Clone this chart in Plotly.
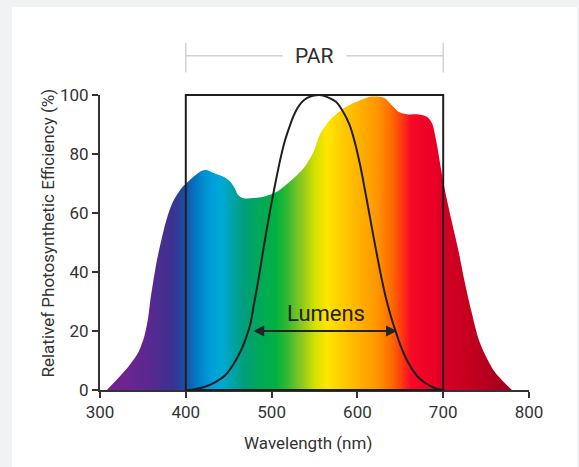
import plotly.graph_objects as go

# ---------------- data ----------------
# Relative photosynthetic efficiency spectrum (coloured area)
spec_wl = [308, 321, 333, 345, 352, 356, 359, 362, 366, 372, 378, 385, 395, 407, 418, 424,
           434, 444, 452, 457, 461, 467, 475, 490, 506, 521, 537, 549, 556, 568, 584, 599,
           615, 626, 632, 640, 648, 659, 671, 681, 687, 692, 698, 704, 710, 718, 725, 733,
           741, 749, 760, 772, 780]
spec_val = [0, 4.0, 7.9, 13.0, 18.6, 24.3, 31.1, 36.7, 43.5, 51.4, 58.2, 63.8, 68.4, 71.8, 74.2, 74.6,
            73.4, 72.3, 70.6, 68.4, 66.1, 65.0, 65.0, 65.5, 67.2, 70.6, 75.1, 80.8, 86.4, 91.5, 95.5, 97.7,
            99.4, 99.4, 98.9, 96.6, 94.3, 93.4, 93.4, 92.6, 90.4, 84.2, 74.0, 65.0, 57.1, 46.9, 36.7, 26.5,
            17.5, 11.9, 6.2, 2.3, 0]

# Luminosity (lumens) curve
lum_wl = [400, 410, 422, 434, 446, 455, 461, 466, 470, 475, 480, 485, 490, 495, 500, 505,
          510, 515, 520, 525, 530, 535, 541, 548, 556, 565, 575, 583, 591, 597, 603, 609,
          615, 621, 627, 633, 639, 645, 651, 657, 664, 671, 680, 690, 700]
lum_val = [0, 0.3, 1.1, 2.6, 5.0, 8.5, 11.5, 14.5, 17.5, 22, 30, 38, 47, 55.5, 63.5, 71,
           78, 84, 88.5, 92.5, 95.5, 97.5, 98.9, 99.7, 100, 99.3, 97.7, 94.5, 89.8, 84, 76.5, 67.5,
           58, 48.5, 39.5, 31.5, 25, 19.5, 14.5, 10.5, 7, 4.3, 2.2, 0.7, 0]

# Spectrum colour stops (wavelength nm -> colour)
grad_wl = [308, 330, 360, 385, 398, 412, 428, 442, 455, 468, 485, 505, 520, 535, 550, 565,
           580, 600, 622, 640, 652, 662, 690, 705, 730, 760, 780]
grad_col = ["#7b1e8e", "#6c2490", "#57298f", "#3a3291", "#1f4ba1", "#0078c4", "#009dd8", "#00a9d6",
            "#00a3a6", "#009f7a", "#00a85a", "#00b140", "#3cba30", "#8cc820", "#d2e000", "#ffe600",
            "#ffcf00", "#ffb400", "#ff9800", "#ff6a00", "#ff3812", "#f70a26", "#ea0026", "#d20024",
            "#c5001f", "#ae001e", "#950020"]

x_ticks = [300, 400, 500, 600, 700, 800]
y_ticks = [0, 20, 40, 60, 80, 100]

par_range = [400, 700]           # PAR band (nm)
par_label_y = 113.3              # level of PAR bracket (in % units above axis)
par_cap = [107.6, 117.7]
lumens_arrow = [477, 646]        # double arrow span (nm)
lumens_arrow_y = 20
lumens_label = (563.5, 25.9)

# ---------------- figure ----------------
fig = go.Figure()

g0, g1 = grad_wl[0], grad_wl[-1]
colorscale = [[(w - g0) / (g1 - g0), c] for w, c in zip(grad_wl, grad_col)]

fig.add_trace(go.Scatter(
    x=spec_wl, y=spec_val, mode="lines",
    line=dict(width=0, shape="spline", smoothing=0.8),
    fill="tozeroy",
    fillgradient=dict(type="horizontal", colorscale=colorscale, start=g0, stop=g1),
    hoverinfo="skip", showlegend=False,
))

fig.add_trace(go.Scatter(
    x=lum_wl, y=lum_val, mode="lines",
    line=dict(color="#1e1e1e", width=2, shape="spline", smoothing=0.8),
    hoverinfo="skip", showlegend=False,
))

# PAR box
fig.add_shape(type="rect", xref="x", yref="paper",
              x0=par_range[0], x1=par_range[1], y0=0, y1=1,
              line=dict(color="#1e1e1e", width=2), layer="above")

# PAR bracket
par_mid = (par_range[0] + par_range[1]) / 2
gap = 37
grey = "#d2d2d2"
for xa, xb in [(par_range[0], par_mid - gap), (par_mid + gap, par_range[1])]:
    fig.add_shape(type="line", xref="x", yref="paper", x0=xa, x1=xb,
                  y0=par_label_y / 100, y1=par_label_y / 100,
                  line=dict(color=grey, width=1.5))
for xc in par_range:
    fig.add_shape(type="line", xref="x", yref="paper", x0=xc, x1=xc,
                  y0=par_cap[0] / 100, y1=par_cap[1] / 100,
                  line=dict(color=grey, width=1.5))
fig.add_annotation(x=par_mid, y=par_label_y / 100, xref="x", yref="paper",
                   text="PAR", showarrow=False, xanchor="center", yanchor="middle",
                   font=dict(size=21, color="#2e2e2e", family="Roboto"))

# Lumens arrow + label
fig.add_annotation(x=lumens_arrow[1], y=lumens_arrow_y, ax=lumens_arrow[0], ay=lumens_arrow_y,
                   xref="x", yref="y", axref="x", ayref="y", text="",
                   showarrow=True, arrowhead=2, arrowside="end+start", arrowsize=1.2,
                   arrowwidth=1.8, arrowcolor="#222222", standoff=0, startstandoff=0)
fig.add_annotation(x=lumens_label[0], y=lumens_label[1], xref="x", yref="y",
                   text="Lumens", showarrow=False, xanchor="center", yanchor="middle",
                   font=dict(size=22, color="#222222", family="Roboto"))

# Axis titles
fig.add_annotation(x=-0.1235, y=0.5305, xref="paper", yref="paper",
                   text="Relativef Photosynthetic Efficiency (%)", textangle=-90,
                   showarrow=False, xanchor="center", yanchor="middle",
                   font=dict(size=17, color="#333333", family="Roboto"))
fig.add_annotation(x=0.4856, y=-0.1797, xref="paper", yref="paper",
                   text="Wavelength (nm)", showarrow=False, xanchor="center", yanchor="middle",
                   font=dict(size=17, color="#333333", family="Roboto"))

# White card on grey page
fig.add_shape(type="rect", xref="paper", yref="paper",
              x0=-0.2051, x1=1.1119, y0=-0.27, y1=1.2983,
              fillcolor="white", line=dict(width=0), layer="below")

axis_common = dict(showgrid=False, zeroline=False, showline=True, linecolor="#333333",
                   linewidth=2, ticks="outside", ticklen=6, tickwidth=2, tickcolor="#333333",
                   tickfont=dict(size=17, color="#333333", family="Roboto"), fixedrange=True)

fig.update_layout(
    width=579, height=467,
    margin=dict(l=100, r=50, t=95, b=77),
    paper_bgcolor="#f0f2f4", plot_bgcolor="rgba(0,0,0,0)",
    xaxis=dict(range=[300, 800], tickvals=x_ticks, **axis_common),
    yaxis=dict(range=[0, 100], tickvals=y_ticks, **axis_common),
    font=dict(family="Roboto"),
)

fig.write_html("out.html", config={"displayModeBar": False},
               post_script="document.body.style.margin='0px';")
